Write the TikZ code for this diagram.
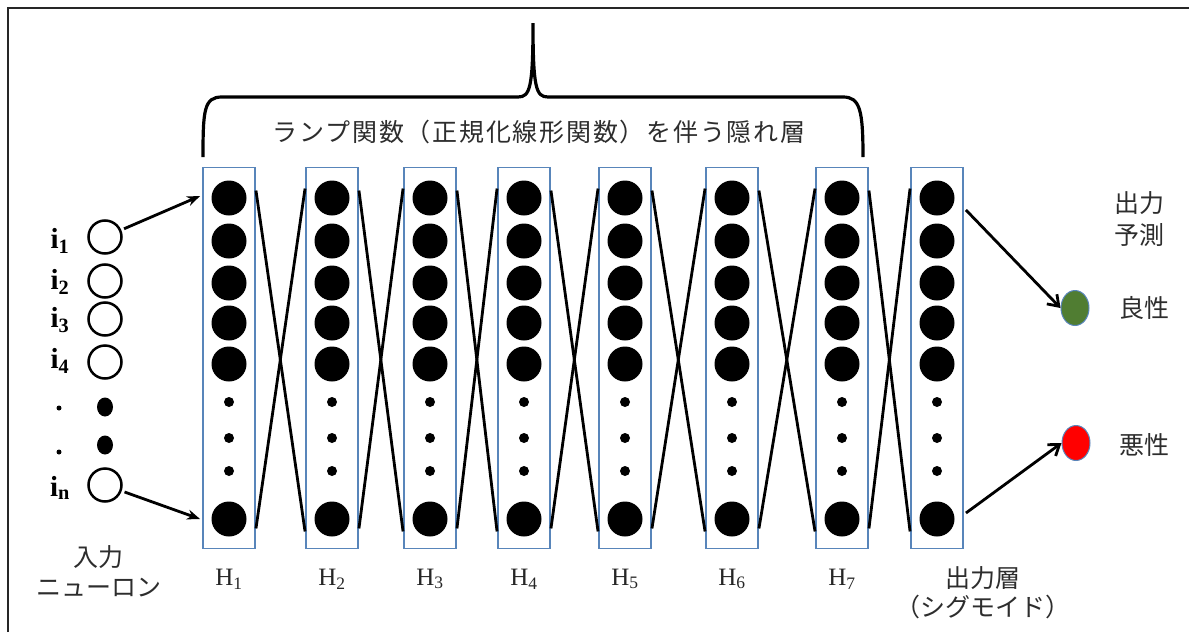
\documentclass[tikz,border=0pt]{standalone}
\usepackage{fontspec}
\setmainfont{Liberation Serif}
\newfontfamily\jp{Noto Sans CJK JP}
\newfontfamily\jpwide[LetterSpace=7]{Noto Sans CJK JP}
\usetikzlibrary{calc,arrows.meta,shapes.geometric}
\definecolor{boxblue}{RGB}{88,133,186}
\definecolor{goodgreen}{RGB}{80,125,50}
\definecolor{badred}{RGB}{255,0,0}
\definecolor{jptext}{RGB}{45,45,45}
\tikzset{
  layerbox/.style={draw=boxblue, line width=1.9pt, minimum width=52pt, minimum height=381pt, inner sep=0pt},
  bigneuron/.style={circle, fill=black, minimum size=35pt, inner sep=0pt},
  smallneuron/.style={circle, fill=black, minimum size=10pt, inner sep=0pt},
  incirc/.style={circle, draw=black, line width=2.5pt, fill=white, minimum size=33pt, inner sep=0pt},
  indot/.style={ellipse, fill=black, minimum width=16pt, minimum height=19pt, inner sep=0pt},
  tinydot/.style={circle, fill=black, minimum size=5pt, inner sep=0pt},
  xline/.style={line width=2.8pt, black},
  inarrow/.style={line width=2.8pt, -{Stealth[length=13pt,width=10pt]}, shorten <=3pt},
  outarrow/.style={line width=2.8pt, -{Straight Barb[length=10pt,width=14pt]}},
  bracepen/.style={line width=3.2pt, black},
  jplabel/.style={font=\jp\fontsize{25pt}{28pt}\selectfont, text=jptext, inner sep=0pt},
  titlelabel/.style={font=\jpwide\fontsize{25pt}{28pt}\selectfont, text=jptext, inner sep=0pt},
  ilabel/.style={font=\bfseries\fontsize{29pt}{30pt}\selectfont, inner sep=0pt},
  hlabel/.style={font=\fontsize{25pt}{28pt}\selectfont, text=black!85, inner sep=0pt},
  outnode/.style={ellipse, draw=boxblue, line width=1pt, minimum width=28pt, minimum height=35pt, inner sep=0pt}
}
\begin{document}
\begin{tikzpicture}[x=1pt,y=-1pt]
\useasboundingbox (0,0) rectangle (1189,632);
% partial frame
\draw[line width=1.4pt, black!85] (8,632) -- (8,8) -- (1189,8);

% brace
\draw[bracepen] (203,157) .. controls (203,110) and (204,97) .. (222,97)
  -- (518,97) .. controls (530,97) and (533,88) .. (533,23)
  .. controls (533,88) and (536,97) .. (548,97)
  -- (843,97) .. controls (860,97) and (863,110) .. (863,157);
\node[titlelabel] (title) at (539,132) {ランプ関数（正規化線形関数）を伴う隠れ層};

% layers
\foreach \i/\cx in {1/229,2/332,3/430,4/524,5/625,6/732,7/842,8/937}{
  \node[layerbox] (L\i) at (\cx,358) {};
  \foreach \r/\y in {1/198,2/241,3/283,4/323,5/364,9/519}{
    \node[bigneuron] (n-\i-\r) at (\cx,\y) {};
  }
  \foreach \r/\y in {6/402,7/438,8/471}{
    \node[smallneuron] (n-\i-\r) at (\cx,\y) {};
  }
}
% crossing connectors
\foreach \i/\j in {1/2,2/3,3/4,4/5,5/6,6/7,7/8}{
  \draw[xline] ($(L\i.north east)+(0,24)$) -- ($(L\j.south west)+(0,-18)$);
  \draw[xline] ($(L\i.south east)+(0,-21)$) -- ($(L\j.north west)+(0,22)$);
}
% layer labels
\foreach \i/\cx in {1/229,2/332,3/430,4/524,5/625,6/732,7/842}{
  \node[hlabel] (h\i) at (\cx,579) {H\textsubscript{\i}};
}

% input neurons
\node[incirc] (in1) at (105,237) {};
\node[incirc] (in2) at (105,281) {};
\node[incirc] (in3) at (105,319) {};
\node[incirc] (in4) at (105,362) {};
\node[indot] (inD1) at (105,407) {};
\node[indot] (inD2) at (105,445) {};
\node[incirc] (inN) at (105,485) {};
\node[ilabel] (li1) at (60,241) {i\textsubscript{1}};
\node[ilabel] (li2) at (60,282) {i\textsubscript{2}};
\node[ilabel] (li3) at (60,320) {i\textsubscript{3}};
\node[ilabel] (li4) at (60,361) {i\textsubscript{4}};
\node[tinydot] (ld1) at (59,408) {};
\node[tinydot] (ld2) at (59,452) {};
\node[ilabel] (liN) at (60,488) {i\textsubscript{n}};
\node[jplabel] (inlab1) at (98,557) {入力};
\node[jplabel] (inlab2) at (99,588) {ニューロン};

\draw[inarrow] (in1) -- ($(L1.west |- n-1-1)+(-2,-2)$);
\draw[inarrow] (inN) -- ($(L1.west |- n-1-9)+(-2,0)$);

% output
\node[outnode, fill=goodgreen] (good) at (1075,308) {};
\node[outnode, fill=badred] (bad) at (1076,443) {};
\draw[outarrow] ($(L8.east |- n-8-1)+(2,12)$) -- (good.west);
\draw[outarrow] ($(L8.east |- n-8-9)+(2,-6)$) -- (bad.west);

\node[jplabel] (outl1) at (983,578) {出力層};
\node[jplabel] (outl2) at (983,607) {（シグモイド）};
\node[jplabel] (pred1) at (1139,203) {出力};
\node[jplabel] (pred2) at (1139,235) {予測};
\node[jplabel] (goodlab) at (1144,308) {良性};
\node[jplabel] (badlab) at (1144,445) {悪性};
\end{tikzpicture}
\end{document}
